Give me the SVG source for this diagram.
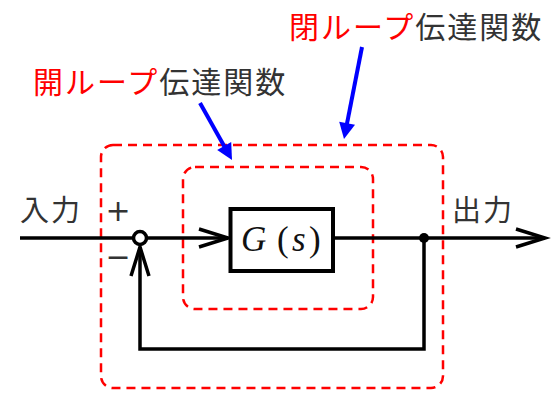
<svg xmlns="http://www.w3.org/2000/svg" width="560" height="404" viewBox="0 0 560 404">
<style>
.bg{fill:#fff}
.dash{fill:none;stroke:#ff0000;stroke-width:2.5;stroke-dasharray:9 6}
.wire{fill:none;stroke:#000;stroke-width:3.5;stroke-linejoin:miter}
.chev{fill:none;stroke:#000;stroke-width:3.5;stroke-linecap:butt;stroke-linejoin:miter}
.blue{stroke:#0000ff;stroke-width:4;fill:none}
.bluehead{fill:#0000ff}
.jp{font-family:"Noto Sans CJK JP","Noto Sans",sans-serif}
.lbl{font-size:30px;letter-spacing:2px}
.io{font-size:29px;letter-spacing:2px;fill:#333}
.red{fill:#ff0000}
.gray{fill:#333}
.sign{font-family:"DejaVu Sans",sans-serif;font-size:30px;fill:#333;text-anchor:middle}
.math{font-family:"Liberation Serif","Times New Roman",serif;font-size:35px;fill:#111}
</style>
<rect class="bg" x="0" y="0" width="560" height="404"/>

<g id="closed-loop-region">
<rect class="dash" x="101" y="145" width="342" height="243" rx="12" ry="12"/>
</g>
<g id="open-loop-region">
<rect class="dash" x="183" y="167" width="190" height="142" rx="12" ry="12"/>
</g>

<g id="connectors">
<line class="wire" x1="20" y1="238" x2="133" y2="238"/>
<line class="wire" x1="147" y1="238" x2="228" y2="238"/>
<polyline class="chev" points="199,229 228,238 199,247"/>
<line class="wire" x1="333" y1="238" x2="544" y2="238"/>
<polyline class="chev" points="516,229 545,238 516,247"/>
<polyline class="wire" points="424,238 424,349 140,349 140,247"/>
<polyline class="chev" points="131,276 140,247 149,276"/>
<line class="blue" x1="362" y1="47" x2="346.3" y2="127.2"/>
<polygon class="bluehead" points="344,139 355,124.8 339.2,121.8"/>
<line class="blue" x1="200" y1="103" x2="226.1" y2="149.5"/>
<polygon class="bluehead" points="232,160 217.2,149.9 231.2,142.1"/>
</g>

<g id="sum">
<circle cx="140" cy="238" r="6.5" fill="#fff" stroke="#000" stroke-width="3.5"/>
<text class="sign" x="118" y="221">+</text>
<text class="sign" x="118" y="267">−</text>
</g>

<g id="junction">
<circle cx="424" cy="238" r="5" fill="#000"/>
</g>

<g id="plant">
<rect x="230.5" y="209" width="102.5" height="62" fill="#fff" stroke="#000" stroke-width="4"/>
<text class="math" y="251"><tspan x="241" font-style="italic">G</tspan><tspan x="277">(</tspan><tspan x="292" font-style="italic">s</tspan><tspan x="309">)</tspan></text>
</g>

<g id="input">
<text class="jp io" x="20" y="221">入力</text>
</g>
<g id="output">
<text class="jp io" x="452" y="221">出力</text>
</g>

<g id="label-closed">
<text class="jp lbl" x="289" y="38"><tspan class="red">閉ループ</tspan><tspan class="gray">伝達関数</tspan></text>
</g>
<g id="label-open">
<text class="jp lbl" x="33" y="93"><tspan class="red">開ループ</tspan><tspan class="gray">伝達関数</tspan></text>
</g>
</svg>
